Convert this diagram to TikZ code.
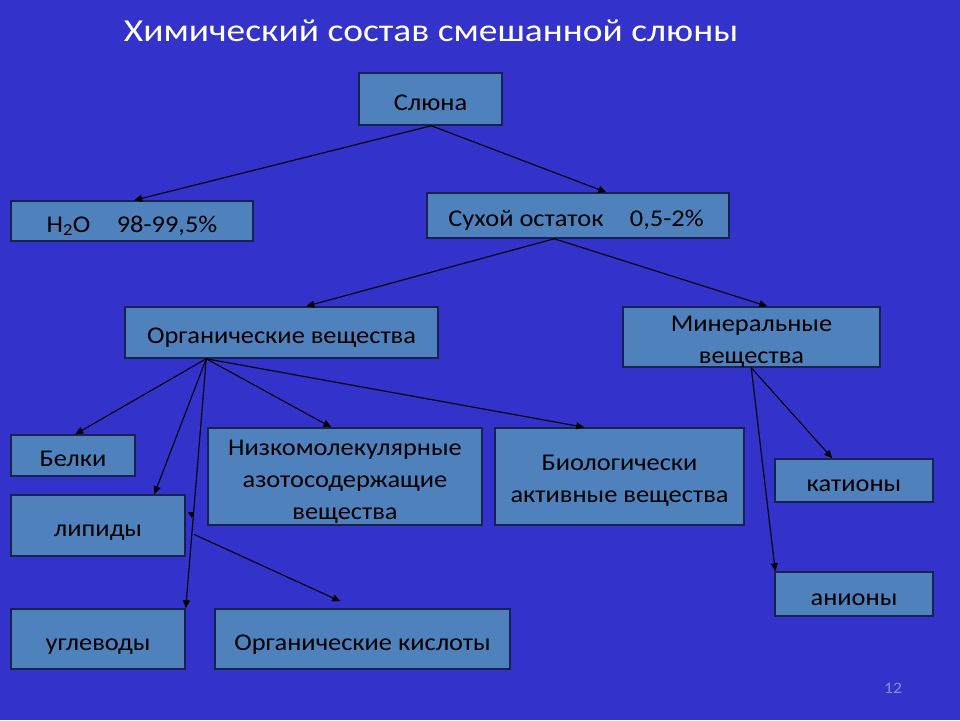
\documentclass[tikz,border=0pt]{standalone}
\usepackage{fontspec}
\setmainfont{Carlito}[FakeStretch=1.1]
\newfontfamily\titlefont{Carlito}[FakeStretch=1.17]
\usetikzlibrary{arrows.meta,calc}
\definecolor{bgblue}{HTML}{3333CC}
\definecolor{boxfill}{HTML}{4F81BD}
\definecolor{boxline}{HTML}{17224F}
\definecolor{pgnum}{HTML}{8C8CD8}
\begin{document}
\begin{tikzpicture}[x=1pt,y=-1pt,
  bx/.style={draw=boxline,fill=boxfill,line width=1.5pt,inner sep=0pt},
  tx/.style={text=black,inner sep=0pt,anchor=base,font=\fontsize{24}{32}\selectfont},
  tm/.style={text=black,inner sep=0pt,anchor=north,align=center,font=\fontsize{24}{32}\selectfont},
  arr/.style={draw=black,line width=1.1pt,-{Triangle[length=8pt,width=7pt]}}]
\useasboundingbox (0,0) rectangle (960,720);
\fill[bgblue] (0,0) rectangle (960,720);
\node[text=white,inner sep=0pt,anchor=base,font=\titlefont\fontsize{32}{36}\selectfont] (title) at (431,41) {Химический состав смешанной слюны};
% boxes
\node[bx,minimum width=143pt,minimum height=52pt] (sal) at (430.5,99) {};
\node[bx,minimum width=242pt,minimum height=40pt] (h2o) at (132,221) {};
\node[bx,minimum width=302pt,minimum height=45pt] (dry) at (578,215.5) {};
\node[bx,minimum width=313pt,minimum height=51pt] (org) at (281.5,332.5) {};
\node[bx,minimum width=257pt,minimum height=60pt] (min) at (751.5,337) {};
\node[bx,minimum width=124pt,minimum height=41pt] (bel) at (73,455.5) {};
\node[bx,minimum width=174pt,minimum height=61pt] (lip) at (98,525.5) {};
\node[bx,minimum width=274pt,minimum height=97pt] (low) at (345,476.5) {};
\node[bx,minimum width=249pt,minimum height=97pt] (bio) at (619.5,476.5) {};
\node[bx,minimum width=158pt,minimum height=43pt] (cat) at (854,480.5) {};
\node[bx,minimum width=174pt,minimum height=60pt] (carb) at (98,639) {};
\node[bx,minimum width=295pt,minimum height=60pt] (acid) at (362.5,639) {};
\node[bx,minimum width=158pt,minimum height=44pt] (ani) at (854,594) {};
% texts
\node[tx] (salT) at ($(sal.center)+(0,11)$) {Слюна};
\node[tx] (h2oT) at ($(h2o.center)+(0,11)$) {H\textsubscript{2}O\hspace{1.1em}98-99,5\%};
\node[tx] (dryT) at ($(dry.center)+(-2,11)$) {Сухой остаток\hspace{1.1em}0,5-2\%};
\node[tx] (orgT) at ($(org.center)+(0,11)$) {Органические вещества};
\node[tm] (minT) at ($(min.north)+(0,10)$) {Минеральные\\вещества};
\node[tx] (belT) at ($(bel.center)+(0,11)$) {Белки};
\node[tx] (lipT) at ($(lip.center)+(0,11)$) {липиды};
\node[tm] (lowT) at ($(low.north)+(0,12.5)$) {Низкомолекулярные\\азотосодержащие\\вещества};
\node[tm] (bioT) at ($(bio.north)+(0,28)$) {Биологически\\активные вещества};
\node[tx] (catT) at ($(cat.center)+(0,11)$) {катионы};
\node[tx] (carbT) at ($(carb.center)+(0,11)$) {углеводы};
\node[tx] (acidT) at ($(acid.center)+(0,11)$) {Органические кислоты};
\node[tx] (aniT) at ($(ani.center)+(0,11)$) {анионы};
\node[text=pgnum,inner sep=0pt,font=\fontsize{16}{18}\selectfont] (pg) at (893,688) {12};
% connectors
\draw[arr] ($(sal.south west)+(73,0)$) -- ($(h2o.north west)+(124,0)$);
\draw[arr] ($(sal.south west)+(73,0)$) -- ($(dry.north west)+(180,0)$);
\draw[arr] ($(dry.south west)+(128,0)$) -- ($(org.north west)+(182,0)$);
\draw[arr] ($(dry.south west)+(128,0)$) -- ($(min.north west)+(145,0)$);
\draw[arr] ($(org.south west)+(82,0)$) -- ($(bel.north west)+(65,0)$);
\draw[arr] ($(org.south west)+(82,0)$) -- ($(lip.north west)+(144,0)$);
\draw[arr] ($(org.south west)+(82,0)$) -- (carb.north east);
\draw[arr] ($(org.south west)+(82,0)$) -- ($(low.north west)+(124,0)$);
\draw[arr] ($(org.south west)+(82,0)$) -- ($(bio.north west)+(90,0)$);
\coordinate (lipa) at ($(lip.north east)+(8,40)$);
\coordinate (lipb) at ($(lip.north east)+(8,21)$);
\coordinate (lipc) at ($(lip.north east)+(2,18)$);
\draw[arr] (lipa) -- ($(acid.north west)+(126,-7)$);
\draw[arr,line width=0.6pt,-{Triangle[length=6pt,width=6pt]}] (lipb) -- (lipc);
\draw[arr] ($(min.south west)+(129,0)$) -- ($(cat.north west)+(58,0)$);
\draw[arr] ($(min.south west)+(129,0)$) -- ($(ani.north west)+(1,0)$);
\end{tikzpicture}
\end{document}
